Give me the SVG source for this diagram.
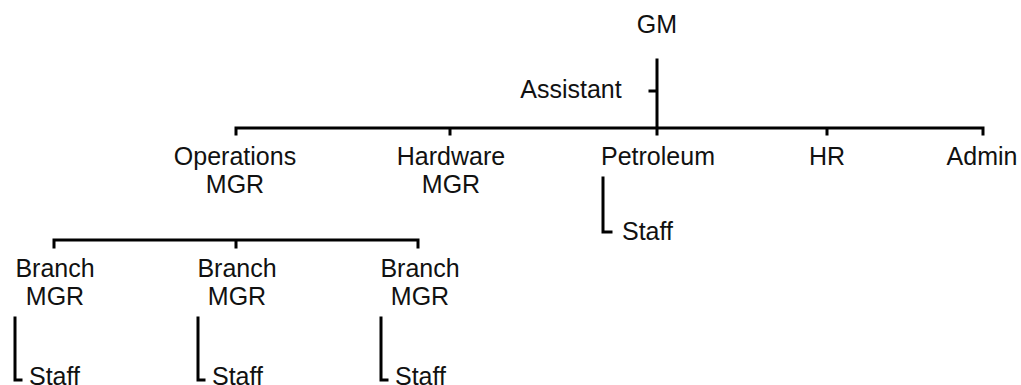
<svg xmlns="http://www.w3.org/2000/svg" width="1021" height="385" viewBox="0 0 1021 385">
<style>
text{font-family:"Liberation Sans",Arial,sans-serif;font-size:25px;fill:#111;text-anchor:middle}
.l{text-anchor:start}
.c{stroke:#000;stroke-width:3;fill:none;stroke-linecap:square}
</style>
<rect width="1021" height="385" fill="#fff"/>
<g id="connectors">
<path class="c" d="M657 60V134M650 91H657M236 128H983M236 128V134M450 128V134M827 128V134M983 128V134"/>
<path class="c" d="M603 178V232H611"/>
<path class="c" d="M54 240H418M54 240V247M236 240V247M418 240V247"/>
<path class="c" d="M15 318V380H21M198 318V380H204M381 318V380H387"/>
</g>
<g id="gm"><text x="657" y="33">GM</text></g>
<g id="assistant"><text x="571" y="98">Assistant</text></g>
<g id="operations"><text x="235" y="165">Operations</text><text x="235" y="193">MGR</text></g>
<g id="hardware"><text x="451" y="165">Hardware</text><text x="451" y="193">MGR</text></g>
<g id="petroleum"><text x="658" y="165">Petroleum</text></g>
<g id="hr"><text x="827" y="165">HR</text></g>
<g id="admin"><text x="982" y="165">Admin</text></g>
<g id="petroleum-staff"><text class="l" x="622" y="240">Staff</text></g>
<g id="branch1"><text x="55" y="277">Branch</text><text x="55" y="305">MGR</text></g>
<g id="branch2"><text x="237" y="277">Branch</text><text x="237" y="305">MGR</text></g>
<g id="branch3"><text x="420" y="277">Branch</text><text x="420" y="305">MGR</text></g>
<g id="staff1"><text class="l" x="29" y="385">Staff</text></g>
<g id="staff2"><text class="l" x="212" y="385">Staff</text></g>
<g id="staff3"><text class="l" x="395" y="385">Staff</text></g>
</svg>
